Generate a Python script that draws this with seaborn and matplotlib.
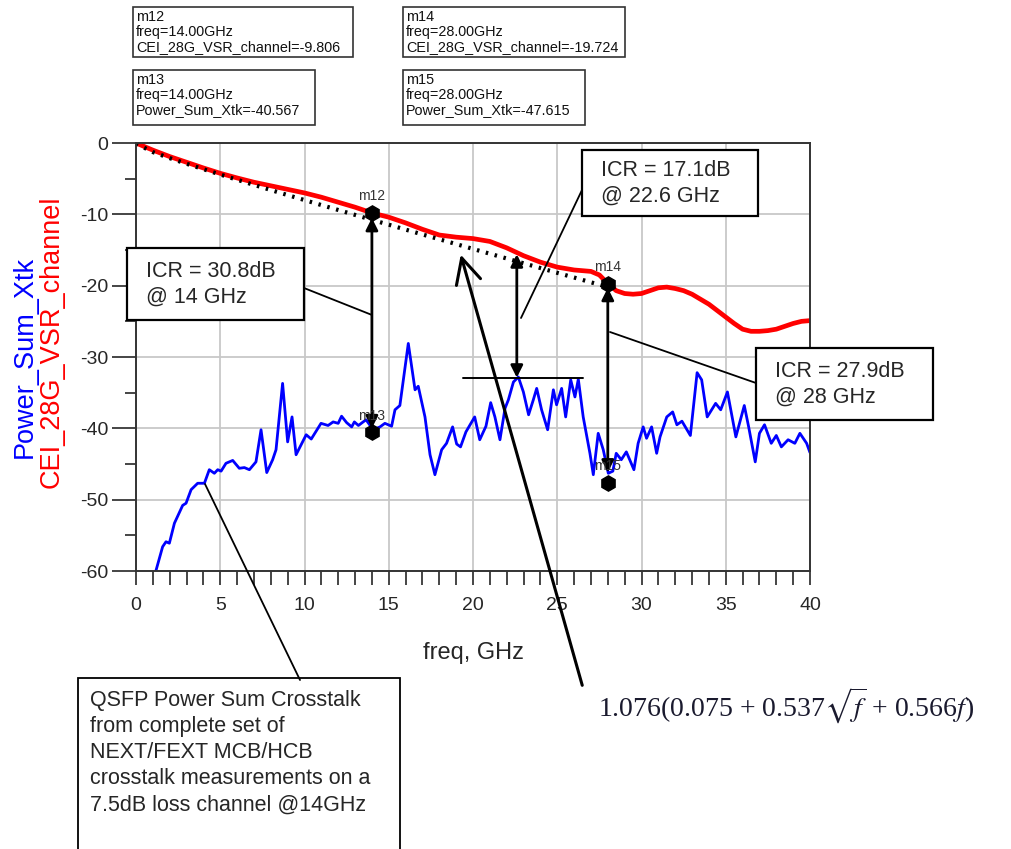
import matplotlib
matplotlib.use('Agg')
import matplotlib.pyplot as plt
import pandas as pd
import seaborn as sns
from matplotlib.patches import Rectangle, FancyArrowPatch
from matplotlib.ticker import MultipleLocator

# channel loss (red)
red_freq = [0, 1, 2, 3, 4, 5, 6, 7, 8, 9, 10, 11, 12, 13, 14, 15, 16, 17, 18, 19, 20,
            21, 22, 23, 24, 25, 26, 27, 27.5, 28, 28.5, 29, 29.5, 30, 30.5, 31, 31.5,
            32, 32.5, 33, 33.5, 34, 34.5, 35, 35.5, 36, 36.5, 37, 37.5, 38, 38.5, 39,
            39.5, 40]
red_db = [0, -1.0, -1.9, -2.7, -3.5, -4.25, -4.9, -5.5, -6.0, -6.5, -7.0, -7.6, -8.3,
          -9.0, -9.8, -10.4, -11.2, -12.1, -12.9, -13.2, -13.4, -13.8, -14.7, -15.8,
          -16.7, -17.4, -17.8, -18.0, -18.5, -19.7, -20.7, -21.1, -21.2, -21.1, -20.7,
          -20.3, -20.2, -20.4, -20.7, -21.2, -21.9, -22.6, -23.5, -24.4, -25.3, -26.1,
          -26.4, -26.4, -26.3, -26.1, -25.7, -25.3, -25.0, -24.9]

# power sum crosstalk (blue)
blue_freq = [1.19, 1.58, 1.78, 1.98, 2.28, 2.77, 2.97, 3.27, 3.66, 4.06, 4.35, 4.65, 4.85,
             5.05, 5.34, 5.74, 6.13, 6.43, 6.73, 7.12, 7.42, 7.76, 8.11, 8.31, 8.7, 9.0,
             9.26, 9.5, 10.1, 10.4, 10.98, 11.4, 11.7, 12.0, 12.2, 12.5, 12.8, 12.96,
             13.2, 13.65, 14.08, 14.48, 14.77, 15.17, 15.37, 15.66, 16.16, 16.56, 16.75,
             17.15, 17.45, 17.74, 18.14, 18.43, 18.79, 19.03, 19.26, 19.58, 20.1, 20.4,
             20.77, 21.05, 21.3, 21.6, 21.9, 22.1, 22.4, 22.69, 22.99, 23.3, 23.58,
             23.78, 24.07, 24.43, 24.77, 24.96, 25.26, 25.5, 25.8, 26.05, 26.25, 26.54,
             26.94, 27.14, 27.43, 27.73, 28.03, 28.3, 28.5, 28.8, 29.1, 29.3, 29.55,
             29.8, 30.1, 30.3, 30.6, 30.9, 31.1, 31.5, 31.85, 32.1, 32.4, 32.9, 33.3,
             33.57, 33.9, 34.4, 34.7, 35.1, 35.6, 36.1, 36.36, 36.75, 37.0, 37.3, 37.7,
             38.0, 38.3, 38.7, 39.1, 39.4, 39.8, 40.0]
blue_db = [-59.9, -56.6, -55.9, -56.1, -53.3, -50.8, -50.5, -48.6, -47.7, -47.7, -45.8,
           -46.3, -45.8, -46.0, -44.9, -44.5, -45.6, -45.5, -45.8, -44.7, -40.2, -46.2,
           -44.4, -43.0, -33.7, -41.9, -38.4, -43.7, -40.9, -41.5, -39.3, -39.6, -39.1,
           -39.3, -38.3, -39.2, -39.8, -39.1, -39.6, -38.8, -40.2, -39.8, -39.3, -39.7,
           -37.4, -36.8, -28.1, -34.6, -34.1, -38.4, -43.7, -46.5, -43.0, -42.1, -39.8,
           -42.2, -42.6, -40.5, -38.4, -41.6, -39.7, -36.4, -38.4, -41.6, -37.2, -36.0,
           -33.5, -32.8, -34.9, -38.1, -36.0, -34.4, -37.4, -40.2, -34.6, -36.7, -34.4,
           -38.4, -33.2, -35.6, -33.1, -38.4, -43.5, -46.5, -40.7, -43.0, -46.3, -46.0,
           -43.5, -44.4, -43.3, -44.4, -45.8, -42.1, -39.8, -41.4, -39.8, -43.5, -41.2,
           -38.4, -37.7, -39.5, -39.0, -41.0, -32.2, -33.2, -38.4, -36.5, -37.4, -34.9,
           -41.2, -36.8, -39.8, -44.7, -40.7, -39.5, -42.1, -41.0, -42.6, -41.6, -42.1,
           -40.7, -42.1, -43.4]

# dotted limit line, 1.076(0.075 + 0.537 sqrt(f) + 0.566 f), values per GHz
limit_freq = list(range(0, 29))
limit_db = [-0.08, -1.27, -2.12, -2.91, -3.67, -4.42, -5.15, -5.87, -6.59, -7.30, -8.00,
            -8.70, -9.39, -10.08, -10.77, -11.45, -12.14, -12.82, -13.49, -14.17, -14.85,
            -15.52, -16.19, -16.86, -17.53, -18.20, -18.86, -19.53, -20.19]

marker_names = ['m12', 'm13', 'm14', 'm15']
marker_freq = [14, 14, 28, 28]
marker_db = [-9.806, -40.567, -19.724, -47.615]
marker_trace = ['CEI_28G_VSR_channel', 'Power_Sum_Xtk', 'CEI_28G_VSR_channel', 'Power_Sum_Xtk']

icr_freq = [14, 22.6, 28]
icr_top = [-10.5, -15.6, -20.3]
icr_bottom = [-40.0, -32.9, -46.2]

red_df = pd.DataFrame({'freq': red_freq, 'db': red_db})
blue_df = pd.DataFrame({'freq': blue_freq, 'db': blue_db})
lim_df = pd.DataFrame({'freq': limit_freq, 'db': limit_db})

sns.set_style('ticks')
plt.rcParams['font.family'] = ['Liberation Sans', 'DejaVu Sans']
plt.rcParams['mathtext.fontset'] = 'stix'
plt.rcParams['axes.unicode_minus'] = False

W, H = 1012, 849
fig = plt.figure(figsize=(W / 100, H / 100), dpi=100)
ax = fig.add_axes([136 / W, 1 - 571 / H, 674 / W, 428 / H])


def px(x, y):
    # pixel position in the picture -> figure fraction
    return (x / W, 1 - y / H)


ax.grid(True, color='#c8c8c8', lw=1.3)
ax.set_axisbelow(True)

sns.lineplot(data=blue_df, x='freq', y='db', color='#0000ff', lw=2, ax=ax,
             estimator=None, sort=False)
sns.lineplot(data=red_df, x='freq', y='db', color='#ff0000', lw=3.4, ax=ax,
             estimator=None, sort=False)
sns.lineplot(data=lim_df, x='freq', y='db', color='black', lw=3, ax=ax,
             estimator=None, sort=False, linestyle=(0, (0.6, 1.6)))

ax.set_xlim(0, 40)
ax.set_ylim(-60, 0)
ax.xaxis.set_major_locator(MultipleLocator(5))
ax.xaxis.set_minor_locator(MultipleLocator(1))
ax.yaxis.set_major_locator(MultipleLocator(10))
ax.yaxis.set_minor_locator(MultipleLocator(5))
ax.tick_params(axis='x', which='both', length=10, width=1.2, labelsize=14, pad=9)
ax.tick_params(axis='y', which='major', length=17, width=1.2, labelsize=14, pad=3)
ax.tick_params(axis='y', which='minor', length=8, width=1.2)
for s in ax.spines.values():
    s.set_color('#333333')
    s.set_linewidth(1.4)
ax.set_xlabel('freq, GHz', fontsize=17, labelpad=20)
ax.set_ylabel('')

fig.text(25 / W, 1 - 357 / H, 'Power_Sum_Xtk', color='#0000ff', fontsize=19.5,
         rotation=90, ha='center', va='center')
fig.text(52 / W, 1 - 342 / H, 'CEI_28G_VSR_channel', color='#ff0000', fontsize=19.5,
         rotation=90, ha='center', va='center')

# markers
for name, f, v in zip(marker_names, marker_freq, marker_db):
    ax.plot(f, v, marker='h', color='black', ms=11, zorder=6)
    ax.annotate(name, (f, v), xytext=(-10, 9), textcoords='offset points',
                fontsize=10, color='#333333', zorder=7)

# ICR double arrows
for f, t, b in zip(icr_freq, icr_top, icr_bottom):
    ax.annotate('', xy=(f, t), xytext=(f, b),
                arrowprops=dict(arrowstyle='<|-|>', color='black', lw=2,
                                mutation_scale=18, shrinkA=0, shrinkB=0), zorder=5)
ax.plot([19.4, 26.5], [-32.9, -32.9], color='black', lw=1.4, zorder=5)

# marker readout boxes at the top
readouts = [(133, 7, 220, 50, 0), (133, 70, 182, 55, 1), (403, 7, 222, 50, 2),
            (403, 70, 182, 55, 3)]
for x0, y0, w, h, i in readouts:
    fig.patches.append(Rectangle(px(x0, y0 + h), w / W, h / H, transform=fig.transFigure,
                                 fc='white', ec='#333333', lw=1.2))
    txt = '%s\nfreq=%.2fGHz\n%s=%.3f' % (marker_names[i], marker_freq[i],
                                          marker_trace[i], marker_db[i])
    fig.text(*px(x0 + 3, y0 + 3), txt, fontsize=10.4, va='top', ha='left',
             linespacing=1.07, color='#111111')

# ICR callout boxes
callouts = [(127, 248, 177, 72, 'ICR = 30.8dB\n@ 14 GHz'),
            (582, 150, 176, 66, 'ICR = 17.1dB\n@ 22.6 GHz'),
            (756, 348, 177, 72, 'ICR = 27.9dB\n@ 28 GHz')]
for x0, y0, w, h, txt in callouts:
    fig.patches.append(Rectangle(px(x0, y0 + h), w / W, h / H, transform=fig.transFigure,
                                 fc='white', ec='black', lw=1.6, zorder=8))
    fig.text(*px(x0 + 19, y0 + h / 2), txt, fontsize=15.5, va='center', ha='left',
             linespacing=1.3, zorder=9)

# leader lines
leaders = [((304, 288), (372, 315)), ((582, 190), (521, 318)), ((756, 383), (610, 332)),
           ((205, 484), (300, 680))]
for (xa, ya), (xb, yb) in leaders:
    fig.add_artist(plt.Line2D([xa / W, xb / W], [1 - ya / H, 1 - yb / H], color='black',
                              lw=1.3, transform=fig.transFigure))

# long arrow pointing to the limit line
fig.patches.append(FancyArrowPatch(px(583, 688), px(460, 252), transform=fig.transFigure,
                                   arrowstyle='->,head_length=0.9,head_width=0.45',
                                   mutation_scale=20, color='black', lw=2.2))

# bottom left note
fig.patches.append(Rectangle(px(78, 860), 322 / W, 182 / H, transform=fig.transFigure,
                             fc='white', ec='black', lw=1.3))
fig.text(*px(90, 690), 'QSFP Power Sum Crosstalk\nfrom complete set of\n'
         'NEXT/FEXT MCB/HCB\ncrosstalk measurements on a\n7.5dB loss channel @14GHz',
         fontsize=15.5, va='top', ha='left', linespacing=1.32)

fig.text(*px(598, 706), r'1.076(0.075 + 0.537$\sqrt{f}$ + 0.566$f$)', fontsize=20,
         family='Liberation Serif', va='center', ha='left', color='#1a1a2e')

fig.savefig('out.png', dpi=100)
